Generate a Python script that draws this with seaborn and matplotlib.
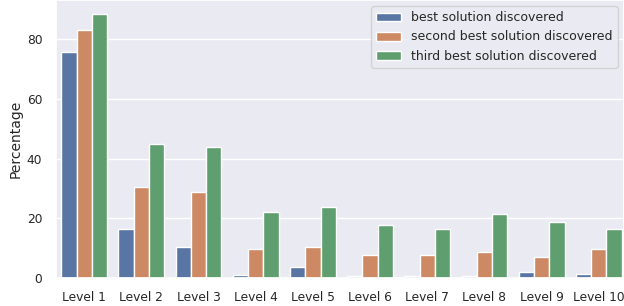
import matplotlib
matplotlib.use("Agg")
import matplotlib.pyplot as plt
import seaborn as sns
import pandas as pd

levels = ["Level 1", "Level 2", "Level 3", "Level 4", "Level 5",
          "Level 6", "Level 7", "Level 8", "Level 9", "Level 10"]
series_names = ["best solution discovered",
                "second best solution discovered",
                "third best solution discovered"]
best = [75.6, 16.3, 10.4, 1.2, 3.8, 0.8, 0.8, 0.8, 2.2, 1.3]
second = [83.1, 30.4, 28.8, 9.6, 10.4, 7.9, 7.9, 8.8, 7.1, 9.7]
third = [88.2, 44.7, 43.9, 22.2, 23.7, 17.8, 16.3, 21.3, 18.8, 16.3]

rows = []
for name, vals in zip(series_names, [best, second, third]):
    for lvl, v in zip(levels, vals):
        rows.append({"Level": lvl, "Percentage": v, "Series": name})
df = pd.DataFrame(rows)

sns.set_theme(style="darkgrid")
plt.rcParams['font.family'] = ['DejaVu Sans']

fig, ax = plt.subplots(figsize=(6.24, 3.06), dpi=100)
sns.barplot(data=df, x="Level", y="Percentage", hue="Series", ax=ax,
            order=levels, hue_order=series_names)
ax.set_xlabel("")
ax.set_ylabel("Percentage", fontsize=10, labelpad=3)
ax.tick_params(axis="both", labelsize=8.8)
ax.set_ylim(0, 93)
ax.set_xlim(-0.5, 9.44)
ax.legend(loc="upper right", fontsize=9, title=None)
fig.subplots_adjust(left=0.089, right=1.0, top=1.0, bottom=0.091)
fig.savefig("out.png", dpi=100)
